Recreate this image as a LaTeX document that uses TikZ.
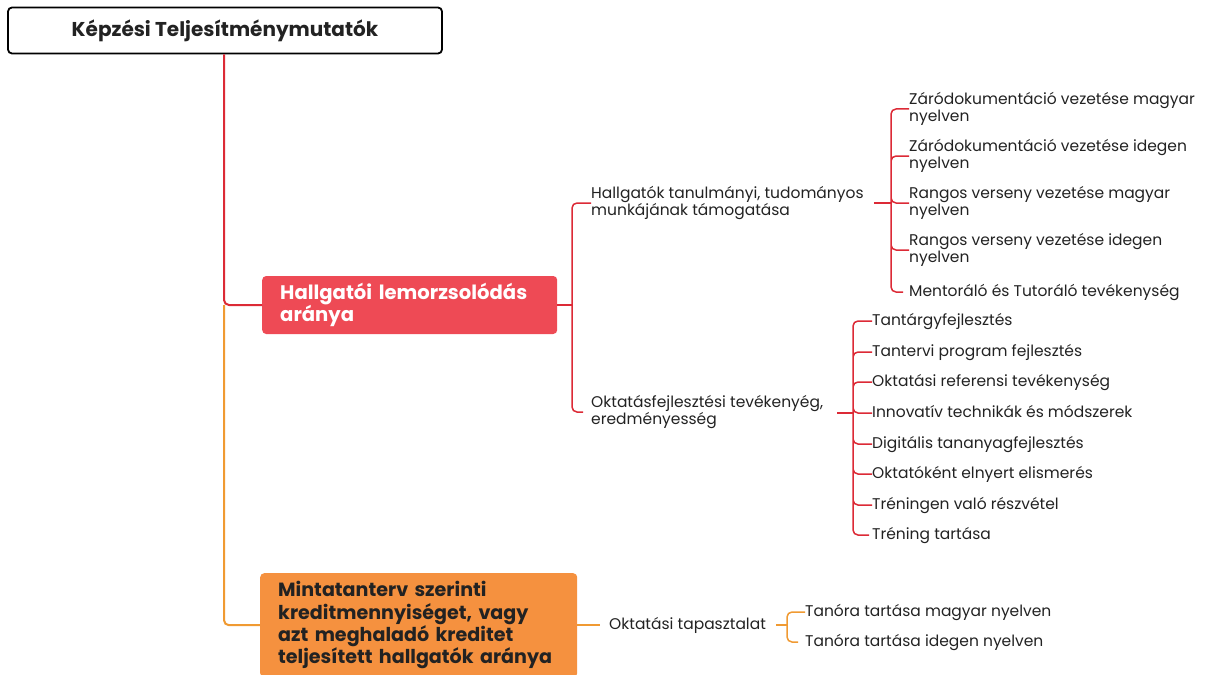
\documentclass[tikz,border=0pt]{standalone}
\usepackage{fontspec}
\setmainfont{Poppins}
\definecolor{mapred}{HTML}{DC2A36}
\definecolor{boxred}{HTML}{EE4A55}
\definecolor{maporange}{HTML}{F09A32}
\definecolor{boxorange}{HTML}{F5913F}
\definecolor{ink}{HTML}{222222}
\tikzset{rootbox/.style={draw, line width=1.8pt, rounded corners=4pt, fill=white,
         minimum width=434, minimum height=46, inner sep=0pt,
         font=\bfseries\fontsize{20}{22}\selectfont, text=ink},
         topicbox/.style={rounded corners=4pt, align=left,
         inner xsep=18pt, inner ysep=0pt, text width=#1,
         font=\bfseries\fontsize{19.6}{22.3}\selectfont},
         topicbox/.default={259},
         leaf/.style={anchor=west, inner sep=0pt, text=ink,
         font=\fontsize{15.5}{16.5}\selectfont},
         item/.style={leaf, text height=11.5pt, text depth=3.5pt},
         pair/.style={leaf, align=left},
         trunk/.style={line width=2pt, rounded corners=5pt},
         branch/.style={line width=1.5pt, rounded corners=5pt, shorten >=6pt}}

\begin{document}
\begin{tikzpicture}[x=1pt,y=-1pt]
      \useasboundingbox (0,0) rectangle (1206,674);
      \node[rootbox] (root) at (225,30.5) {Képzési Teljesítménymutatók};
      \node[topicbox, anchor=west, fill=boxred, text=white, minimum height=58] (drop) at (262,305)
        {Hallgatói lemorzsolódás\\aránya};
      \node[topicbox=281, anchor=north west, fill=boxorange, text=ink, minimum height=104,
        font=\bfseries\fontsize{19.1}{22.3}\selectfont] (credit) at (260,573)
        {Mintatanterv szerinti\\kreditmennyiséget, vagy\\azt meghaladó kreditet\\teljesített hallgatók aránya};
      \coordinate (fork) at ([xshift=-1pt]root.south |- drop.west);
      \draw[trunk, mapred] ([xshift=-1pt]root.south) |- (drop.west);
      \draw[trunk, maporange] (fork) |- (credit.west);

      \node[pair] (support) at (591,203) {Hallgatók tanulmányi, tudományos\\munkájának támogatása};
      \node[pair] (devel) at (591,412) {Oktatásfejlesztési tevékenyég,\\eredményesség};
      \coordinate (dropfork) at (572,305);
      \draw[branch, mapred, shorten >=0pt] (drop.east) -- (dropfork);
      \draw[branch, mapred, shorten >=8pt] (dropfork) |- (support.west) (dropfork) |- (devel.west);

      \node[pair] (zm) at (909,109) {Záródokumentáció vezetése magyar\\nyelven};
      \node[pair] (zi) at (909,156) {Záródokumentáció vezetése idegen\\nyelven};
      \node[pair] (rm) at (909,203) {Rangos verseny vezetése magyar\\nyelven};
      \node[pair] (ri) at (909,250) {Rangos verseny vezetése idegen\\nyelven};
      \node[item] (mt) at (909,292) {Mentoráló és Tutoráló tevékenység};
      \coordinate (supfork) at (891,203);
      \draw[branch, mapred, shorten >=0pt] ([xshift=10pt]support.east) -- (supfork);
      \draw[branch, mapred] (supfork) |- (zm.west) (supfork) |- (zi.west) (supfork) |- (rm.west)
        (supfork) |- (ri.west) (supfork) |- (mt.west);

      \node[item] (tf) at (872,321) {Tantárgyfejlesztés};
      \node[item] (tp) at (872,352) {Tantervi program fejlesztés};
      \node[item] (or) at (872,382) {Oktatási referensi tevékenység};
      \node[item] (it) at (872,413) {Innovatív technikák és módszerek};
      \node[item] (dt) at (872,444) {Digitális tananyagfejlesztés};
      \node[item] (oe) at (872,474) {Oktatóként elnyert elismerés};
      \node[item] (tr) at (872,505) {Tréningen való részvétel};
      \node[item] (tt) at (872,535) {Tréning tartása};
      \coordinate (devfork) at (853,413);
      \draw[branch, mapred, shorten >=0pt] ([xshift=14pt]devel.east |- devfork) -- (devfork);
      \draw[branch, mapred, shorten >=3pt] (devfork) |- (tf.west) (devfork) |- (tp.west) (devfork) |- (or.west)
        (devfork) |- (it.west) (devfork) |- (dt.west) (devfork) |- (oe.west) (devfork) |- (tr.west)
        (devfork) |- (tt.west);

      \node[item] (exp) at (609,625) {Oktatási tapasztalat};
      \node[item] (thm) at (805,612) {Tanóra tartása magyar nyelven};
      \node[item] (thi) at (805,642) {Tanóra tartása idegen nyelven};
      \coordinate (expfork) at (787,625);
      \draw[branch, maporange, shorten >=9pt] (credit.east |- exp.west) -- (exp.west);
      \draw[branch, maporange, shorten >=0pt] ([xshift=10pt]exp.east) -- (expfork);
      \draw[branch, maporange, shorten >=7pt] (expfork) |- (thm.west) (expfork) |- (thi.west);
\end{tikzpicture}
\end{document}
